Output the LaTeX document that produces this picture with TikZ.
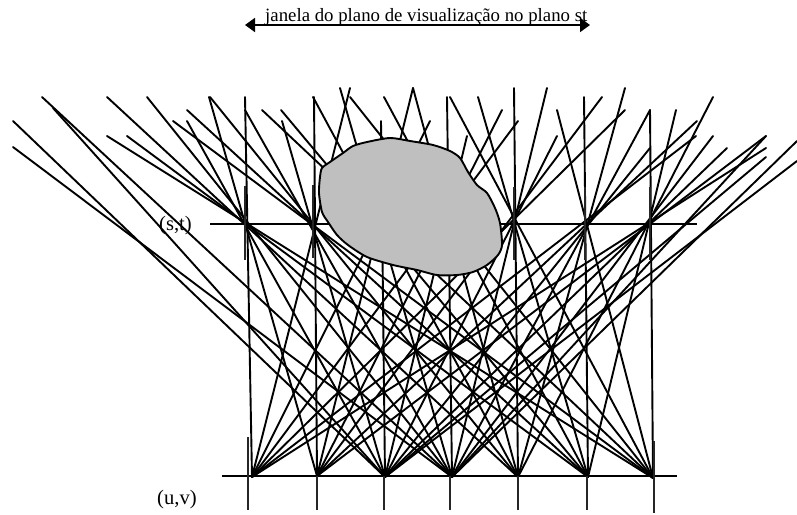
\documentclass[tikz,border=0pt]{standalone}
\usepackage{fontspec}
\setmainfont{Liberation Serif}
\usetikzlibrary{arrows.meta}
\tikzset{
  ray/.style={line width=1.9pt,line cap=round},
  axisline/.style={line width=1.9pt},
  tick/.style={line width=1.9pt,black!85},
  blob/.style={fill=black!25,draw=black,line width=1.9pt},
  window/.style={line width=1.9pt,{Triangle[length=10pt,width=14pt]}-{Triangle[length=10pt,width=14pt]}},
  lbl/.style={inner sep=0pt,font=\fontsize{18.8pt}{21pt}\selectfont},
  lblbig/.style={inner sep=0pt,font=\fontsize{20.6pt}{23pt}\selectfont}
}
\begin{document}
\begin{tikzpicture}[x=1pt,y=-1pt]
\useasboundingbox (0,0) rectangle (797,514);
\coordinate (u1) at (252,477);
\coordinate (u2) at (317,476);
\coordinate (u3) at (385,477);
\coordinate (u4) at (452,477);
\coordinate (u5) at (518,477);
\coordinate (u6) at (588,477);
\coordinate (u7) at (653,478);
% rays from each (u,v) sample through the (s,t) plane
\foreach \e in {(245,97),(350,88),(430,121),(518,121),(625,110),(696,136),(766,148)} \draw[ray] (u1) -- \e;
\foreach \e in {(209,97),(314,97),(413,88),(502,110),(602,97),(697,121),(766,136)} \draw[ray] (u2) -- \e;
\foreach \e in {(187,121),(282,121),(381,121),(467,136),(557,136),(650,148),(727,148),(53,108),(13,121),(797,161),(766,157)} \draw[ray] (u3) -- \e;
\foreach \e in {(147,97),(245,110),(340,88),(447,97),(547,88),(650,110),(713,136),(42,97),(13,147),(797,141),(766,136)} \draw[ray] (u4) -- \e;
\foreach \e in {(107,97),(210,97),(313,97),(413,88),(514,88),(625,88),(713,97)} \draw[ray] (u5) -- \e;
\foreach \e in {(127,136),(187,110),(281,110),(384,97),(478,97),(584,97),(676,110)} \draw[ray] (u6) -- \e;
\foreach \e in {(107,136),(173,121),(262,110),(350,97),(450,97),(557,110),(650,110)} \draw[ray] (u7) -- \e;
% planes
\draw[axisline] (210,224) -- (697,224);
\draw[axisline] (222,476) -- (677,476);
% ticks
\foreach \x/\a/\b in {245/186/260,313/185/258,514/187/260,585/187/260,650/187/260,
                      248/437/510,317/476/510,384/476/510,450/476/510,518/476/510,587/476/510,654/441/513}
  \draw[tick] (\x,\a) -- (\x,\b);
% object
\draw[blob] plot[smooth cycle,tension=0.45] coordinates {
 (322,168) (330,162) (343,153) (353,146) (367,142) (390,138) (410,141) (433,145) (450,151) (460,158)
 (468,172) (477,185) (487,193) (495,208) (500,223) (502,245) (498,255) (487,265) (473,272) (457,275)
 (437,275) (417,270) (393,265) (367,257) (348,245) (337,235) (328,222) (322,212) (319,193) (320,177)};
% window
\coordinate (wl) at (245,25);
\coordinate (wr) at (590,25);
\draw[window] (wl) -- (wr);
\node[lbl,anchor=base west] (wlabel) at (265,21.7) {janela do plano de visualização no plano st};
\node[lblbig,anchor=base west] (st) at (159,230) {(s,t)};
\node[lblbig,anchor=base west] (uv) at (157,504) {(u,v)};
\end{tikzpicture}
\end{document}
